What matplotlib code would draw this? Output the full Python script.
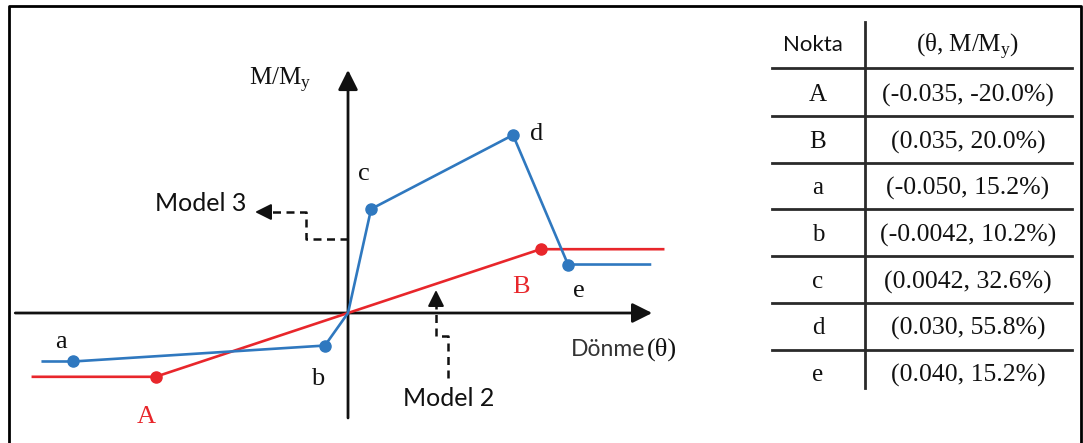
import numpy as np
import matplotlib
matplotlib.use("Agg")
import matplotlib.pyplot as plt
from matplotlib.lines import Line2D
from matplotlib.patches import FancyArrowPatch

# ---- data -------------------------------------------------------------
points = ["A", "B", "a", "b", "c", "d", "e"]
theta = [-0.035, 0.035, -0.050, -0.0042, 0.0042, 0.030, 0.040]
ratio_pct = [-20.0, 20.0, 15.2, 10.2, 32.6, 55.8, 15.2]

model2_points = ["A", "B"]
model3_points = ["a", "b", "c", "d", "e"]

header = ["Nokta", r"(θ, M/M$_{\rm y}$)"]

# ---- styling ----------------------------------------------------------
W, H = 1083, 443
BLUE = "#2f78bf"
RED = "#e8262b"
INK = "#111111"
SERIF = "Liberation Serif"
SANS = "Lato"

plt.rcParams["mathtext.fontset"] = "custom"
plt.rcParams["mathtext.rm"] = SERIF
plt.rcParams["mathtext.it"] = SERIF + ":italic"


def fx(x, y):
    """pixel position -> figure fraction"""
    return x / W, 1 - y / H


def fmt_theta(t):
    return f"{t:.3f}" if round(t, 3) == t else f"{t:.4f}"


def signed_ratio(p):
    i = points.index(p)
    t = theta[i]
    return np.sign(t) * abs(ratio_pct[i]) / 100.0


fig = plt.figure(figsize=(W / 100, H / 100), dpi=100)
fig.patch.set_facecolor("white")

# ---- moment-rotation sketch ------------------------------------------
L, R, T, B = 15, 700, 20, 440
ax = fig.add_axes([L / W, 1 - B / H, (R - L) / W, (B - T) / H])
ax.set_xlim(-0.06055, 0.0640)
ax.set_ylim(-0.3981, 0.9185)
ax.axis("off")

# coordinate axes with arrow heads
axis_arrow = dict(arrowstyle="-|>,head_length=0.6,head_width=0.3",
                  lw=2.0, color=INK, mutation_scale=20,
                  shrinkA=0, shrinkB=0)
ax.annotate("", xy=(0.0553, 0), xytext=(-0.0605, 0), arrowprops=axis_arrow)
ax.annotate("", xy=(0, 0.762), xytext=(0, -0.329), arrowprops=axis_arrow)

# Model 2 (red): A -> B with plateaus
th2 = [theta[points.index(p)] for p in model2_points]
m2 = [signed_ratio(p) for p in model2_points]
ax.plot([-0.0573] + th2 + [0.0573], [m2[0]] + m2 + [m2[-1]],
        color=RED, lw=1.9, solid_joinstyle="round", zorder=3)
ax.plot(th2, m2, "o", color=RED, ms=8, zorder=4)

# Model 3 (blue): a -> b -> origin -> c -> d -> e with plateaus
th3 = [theta[points.index(p)] for p in model3_points]
m3 = [signed_ratio(p) for p in model3_points]
line_th = [-0.0555] + th3[:2] + [0.0] + th3[2:] + [0.0549]
line_m = [m3[0]] + m3[:2] + [0.0] + m3[2:] + [m3[-1]]
ax.plot(line_th, line_m, color=BLUE, lw=1.9, solid_joinstyle="round", zorder=3)
ax.plot(th3, m3, "o", color=BLUE, ms=8, zorder=4)

# point labels (offsets in points)
label_offsets = {"a": (-9, 14), "b": (-5, -24), "c": (-5, 25), "d": (17, 1),
                 "e": (8, -19), "A": (-7, -29), "B": (-14, -27)}
for p in points:
    col = RED if p in model2_points else INK
    ax.annotate(p, xy=(theta[points.index(p)], signed_ratio(p)),
                xytext=label_offsets[p], textcoords="offset points",
                ha="center", va="center", fontsize=19, family=SERIF,
                color=col)

# axis titles
fig.text(*fx(280, 80), r"M/M$_{\rm y}$", fontsize=18, family=SERIF,
         color=INK, ha="center", va="center")
fig.text(*fx(608, 350), "Dönme", fontsize=16.5, family=SANS,
         color="#333333", ha="center", va="center")
fig.text(*fx(662, 349), "(θ)", fontsize=19, family=SERIF,
         color=INK, ha="center", va="center")

# dashed pointers to the model curves
dash = dict(color=INK, lw=1.8, ls=(0, (3.2, 2.2)))
p3 = [(348, 239), (306, 239), (306, 212), (266, 212)]
fig.add_artist(Line2D([fx(*q)[0] for q in p3], [fx(*q)[1] for q in p3],
                      transform=fig.transFigure, **dash))
p2 = [(448, 378), (448, 336), (436, 336), (436, 302)]
fig.add_artist(Line2D([fx(*q)[0] for q in p2], [fx(*q)[1] for q in p2],
                      transform=fig.transFigure, **dash))
small_head = dict(arrowstyle="-|>,head_length=0.7,head_width=0.35",
                  lw=1.5, color=INK, mutation_scale=14,
                  shrinkA=0, shrinkB=0)
fig.add_artist(FancyArrowPatch(fx(268, 212), fx(255, 212),
                               transform=fig.transFigure, **small_head))
fig.add_artist(FancyArrowPatch(fx(436, 304), fx(436, 290),
                               transform=fig.transFigure, **small_head))

fig.text(*fx(246, 203), "Model 3", fontsize=18, family=SANS, color=INK,
         ha="right", va="center")
fig.text(*fx(449, 399), "Model 2", fontsize=18, family=SANS, color=INK,
         ha="center", va="center")

# ---- point table -----------------------------------------------------
tbl_line = dict(color="#2a2a2a", lw=2.0, transform=fig.transFigure)
fig.add_artist(Line2D([fx(865, 22)[0], fx(865, 388)[0]],
                      [fx(865, 22)[1], fx(865, 388)[1]], **tbl_line))
row_rules = [68, 116, 163, 209, 256, 303, 350]
for yy in row_rules:
    fig.add_artist(Line2D([fx(772, yy)[0], fx(1072, yy)[0]],
                          [fx(772, yy)[1], fx(1072, yy)[1]], **tbl_line))

fig.text(*fx(813, 45), header[0], fontsize=16, family=SANS, color=INK,
         ha="center", va="center")
fig.text(*fx(968, 47), header[1], fontsize=18, family=SERIF, color=INK,
         ha="center", va="center")

row_y = [95, 142, 188, 235, 282, 328, 375]
for p, t, r, yy in zip(points, theta, ratio_pct, row_y):
    fig.text(*fx(818, yy), p, fontsize=18, family=SERIF, color=INK,
             ha="center", va="center")
    fig.text(*fx(968, yy), f"({fmt_theta(t)}, {r:.1f}%)", fontsize=18.5,
             family=SERIF, color=INK, ha="center", va="center")

# ---- frame -----------------------------------------------------------
frame = [(9, 443), (9, 6), (1081, 6), (1081, 443)]
fig.add_artist(Line2D([fx(*q)[0] for q in frame], [fx(*q)[1] for q in frame],
                      color="black", lw=2.0, transform=fig.transFigure))

fig.savefig("out.png", dpi=100, facecolor="white")
